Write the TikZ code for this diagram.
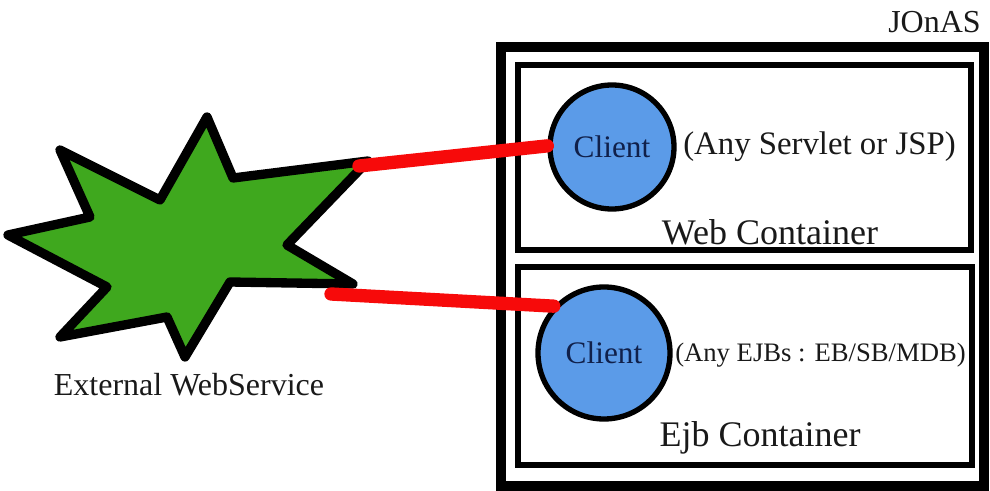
\documentclass[tikz,border=0pt]{standalone}
\usepackage{fontspec}
\setmainfont{Liberation Serif}
\newfontfamily\tmsfont{Liberation Serif}
\begin{document}
\begin{tikzpicture}[x=0.75pt,y=-0.75pt,
  starfill/.style={fill=starGreen,draw=black,line width=7pt,line join=round},
  boxline/.style={draw=black,line join=miter},
  client/.style={circle,fill=clientBlue,draw=black,line width=4pt,inner sep=0pt,minimum size=#1,font=\tmsfont\fontsize{23.5pt}{27pt}\selectfont,text=clientText},
  lbl/.style={font=\tmsfont\fontsize{24pt}{28pt}\selectfont,text=black!90,inner sep=0pt},
  clbl/.style={font=\tmsfont\fontsize{27pt}{31pt}\selectfont,text=black!90,inner sep=0pt},
  link/.style={draw=linkRed,line width=10pt,line cap=round}]
\definecolor{starGreen}{HTML}{3FA81E}
\definecolor{clientBlue}{HTML}{5B9BE8}
\definecolor{clientText}{HTML}{10204A}
\definecolor{linkRed}{HTML}{F70A0A}
\useasboundingbox (0,0) rectangle (990,491);
% star
\draw[starfill] (207,117) -- (233,178) -- (368,161) -- (287,245) -- (353,284) -- (230,282) -- (185,357) -- (167,317) -- (60,337) -- (107,287) -- (8,235) -- (90,217) -- (60,150) -- (160,200) -- cycle;
\coordinate (tipA) at (359,166);
\coordinate (tipB) at (331,294);
\node[lbl] (ext) at (189,385) {External WebService};
% JOnAS
\draw[boxline,line width=7.5pt] (501,47) rectangle (984,486);
\node[lbl,anchor=east] (jonas) at (981,22) {JOnAS};
% containers
\draw[boxline,line width=4.5pt] (518,65) rectangle (971,250);
\draw[boxline,line width=4.5pt] (518,267) rectangle (972,465);
\node[clbl] (web) at (770,232) {Web Container};
\node[clbl] (ejb) at (760,438) {Ejb Container};
% clients
\node[client=124pt*0.75] (c1) at (612,147) {Client};
\node[client=132pt*0.75] (c2) at (604,353) {Client};
\node[lbl,anchor=west,font=\tmsfont\fontsize{24.6pt}{28pt}\selectfont] (t1) at (683,147) {(Any Servlet or JSP)};
\node[lbl,anchor=west,font=\tmsfont\fontsize{20pt}{24pt}\selectfont] (t2) at (675,355) {(Any EJBs : EB/SB/MDB)};
% links
\draw[link] (tipA) -- (c1.179);
\draw[link] (tipB) -- (c2.137);
\end{tikzpicture}
\end{document}
